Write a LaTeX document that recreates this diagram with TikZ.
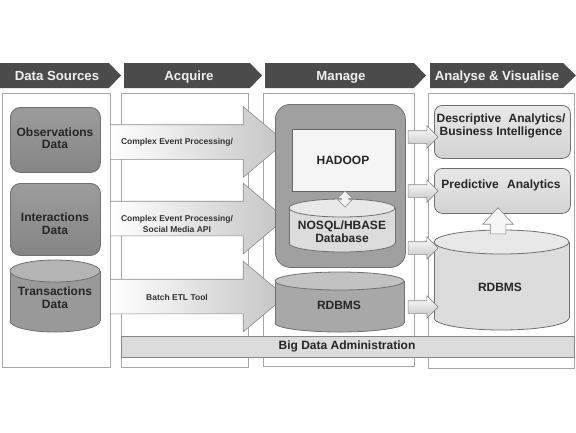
\documentclass[tikz,border=0pt]{standalone}
\usepackage{fontspec}
\setmainfont{Liberation Sans}
\usetikzlibrary{shapes.arrows,shapes.geometric}
\definecolor{hdrgray}{HTML}{4B4B4B}
\definecolor{hdrtext}{HTML}{F0F0F0}
\definecolor{colline}{HTML}{A6A6A6}
\definecolor{srctop}{HTML}{9C9C9C}
\definecolor{srcbot}{HTML}{858585}
\definecolor{srcline}{HTML}{707070}
\definecolor{arrline}{HTML}{8C8C8C}
\definecolor{arrright}{HTML}{C4C4C4}
\definecolor{hadfill}{HTML}{A0A0A0}
\definecolor{lightfill}{HTML}{DCDCDC}
\definecolor{lighttop}{HTML}{E8E8E8}
\definecolor{midfill}{HTML}{A8A8A8}
\definecolor{midtop}{HTML}{C2C2C2}
\definecolor{darkcyl}{HTML}{999999}
\definecolor{darkcyltop}{HTML}{B4B4B4}
\newcommand\drawcyl[8]{%
  \pgfmathsetmacro\cylcx{(#2+#3)/2}%
  \pgfmathsetmacro\cylrx{(#3-#2)/2}%
  \pgfmathsetmacro\cylcy{(#4+#5)/2}%
  \fill[#7] (\cylcx,#5) ellipse [x radius=\cylrx pt, y radius=#6pt];
  \draw[cylline] (\cylcx,#5) ellipse [x radius=\cylrx pt, y radius=#6pt];
  \fill[#7] (#2,#4) rectangle (#3,#5);
  \draw[cylline] (#2,#4) -- (#2,#5) (#3,#4) -- (#3,#5);
  \filldraw[cylline, fill=#8] (\cylcx,#4) ellipse [x radius=\cylrx pt, y radius=#6pt];
  \node[inner sep=0, minimum width=#3-#2, minimum height=#5-#4] (#1) at (\cylcx,\cylcy) {};
}
\begin{document}
\begin{tikzpicture}[x=1pt,y=-1pt,font=\bfseries,
  hdrtxt/.style={text=hdrtext, font=\bfseries\fontsize{13.2}{15}\selectfont, inner sep=0, anchor=base},
  colbox/.style={draw=colline, line width=0.9pt, fill=white},
  srcbox/.style={draw=srcline, line width=0.9pt, rounded corners=10pt, top color=srctop, bottom color=srcbot, inner sep=0, anchor=north west},
  cylline/.style={draw=srcline, line width=0.8pt},
  bigarrow/.style={single arrow, single arrow tip angle=80, single arrow head extend=18pt, minimum height=175pt, inner xsep=0pt, inner ysep=17pt, draw=arrline, line width=0.6pt, left color=white, right color=arrright},
  smallarrow/.style={single arrow, single arrow tip angle=90, single arrow head extend=5pt, minimum height=30pt, inner xsep=0pt, inner ysep=6pt, draw=arrline, line width=0.6pt, top color=white, bottom color=arrright},
  lbl/.style={align=center, inner sep=0, font=\bfseries\fontsize{12}{12.5}\selectfont, text=black!85},
  albl/.style={align=center, inner sep=0, font=\bfseries\fontsize{8.5}{11}\selectfont, text=black!80},
  lightbox/.style={draw=srcline, line width=0.8pt, rounded corners=8pt, top color=lighttop, bottom color=lightfill!90!gray, inner sep=0, anchor=north west},
]
\useasboundingbox (0,0) rectangle (576,432);
\fill[white] (0,0) rectangle (576,432);

% header chevrons
\fill[hdrgray] (0,63) -- (109,63) -- (121,75.5) -- (109,88) -- (0,88) -- cycle;
\fill[hdrgray] (124,63) -- (250,63) -- (262,75.5) -- (250,88) -- (124,88) -- cycle;
\fill[hdrgray] (265,63) -- (414,63) -- (426,75.5) -- (414,88) -- (265,88) -- cycle;
\fill[hdrgray] (430,63) -- (563,63) -- (576,75.5) -- (563,88) -- (430,88) -- cycle;
\node[hdrtxt] (h1) at (57,80.5) {Data Sources};
\node[hdrtxt] (h2) at (189,80.5) {Acquire};
\node[hdrtxt] (h3) at (341,80.5) {Manage};
\node[hdrtxt] (h4) at (497,80.5) {Analyse \& Visualise};

% columns
\draw[colbox] (2,93) rectangle (110,367);
\draw[colbox] (121,93) rectangle (248,367);
\draw[colbox] (263,93) rectangle (414,366);
\draw[colbox] (428,93) rectangle (574,368);

% admin bar
\node[draw=colline!80!black, line width=0.8pt, fill=lightfill, anchor=north west, minimum width=453, minimum height=21, inner sep=0] (admin) at (121,336) {};
\node[lbl] at (347,346.5) {Big Data Administration};

% big arrows
\node[bigarrow] (a1) at (187.5,142) {};
\node[bigarrow] (a2) at (187.5,218.5) {};
\node[bigarrow] (a3) at (187.5,296.5) {};
\node[albl] at (177,142) {Complex Event Processing/};
\node[albl] at (177,223.5) {Complex Event Processing/\\Social Media API};
\node[albl] at (177,297) {Batch ETL Tool};

% sources
\node[srcbox, minimum width=90, minimum height=65] (obs) at (10,107) {};
\node[lbl] at (55,138) {Observations\\Data};
\node[srcbox, minimum width=90, minimum height=72] (inter) at (10,183) {};
\node[lbl] at (55,223.5) {Interactions\\Data};
\drawcyl{trans}{10}{100}{271}{321}{11}{darkcyl}{darkcyltop}
\node[lbl] at (55,297.5) {Transactions\\Data};

% manage
\node[draw=srcline, line width=0.8pt, fill=hadfill, rounded corners=15pt, anchor=north west, minimum width=130, minimum height=163, inner sep=0] (hadoopbox) at (275,104) {};
\node[draw=black!60, line width=0.8pt, fill=white!92!gray, anchor=north west, minimum width=103, minimum height=62, inner sep=0] (hadoop) at (292,129) {};
\node[lbl] at (343,160) {HADOOP};
\drawcyl{nosql}{289}{395}{208}{243}{9}{lightfill}{lighttop}
\node[lbl] at (342,231.5) {NOSQL/HBASE\\Database};
\node[double arrow, double arrow tip angle=90, double arrow head extend=3.5pt, minimum height=16pt, inner xsep=0pt, inner ysep=3.5pt, rotate=90, draw=arrline, fill=white!90!gray] (link) at (345,199) {};
\drawcyl{rdbmsm}{275}{404}{281}{323}{9}{midfill}{midtop}
\node[lbl] at (339,305) {RDBMS};

% analyse
\node[lightbox, minimum width=136, minimum height=53] (desc) at (434,105) {};
\node[lbl] at (501,126) {Descriptive\hspace{4pt} Analytics/\\Business Intelligence};
\node[lightbox, minimum width=136, minimum height=45] (pred) at (434,168) {};
\node[lbl] at (501,185) {Predictive\hspace{5pt} Analytics};
\drawcyl{rdbmsr}{434}{569}{242}{318}{12}{lightfill}{lighttop}
\node[lbl] at (500,287) {RDBMS};
\node[single arrow, single arrow tip angle=86, single arrow head extend=7.5pt, minimum height=26pt, inner xsep=0pt, inner ysep=7.5pt, rotate=90, draw=arrline, line width=0.6pt, fill=white!92!gray] (up) at (498,225) {};

% small arrows
\node[smallarrow] (s1) at (420,137) {};
\node[smallarrow] (s2) at (420,191) {};
\node[smallarrow] (s3) at (420,248) {};
\node[smallarrow] (s4) at (420,307) {};
\end{tikzpicture}
\end{document}
